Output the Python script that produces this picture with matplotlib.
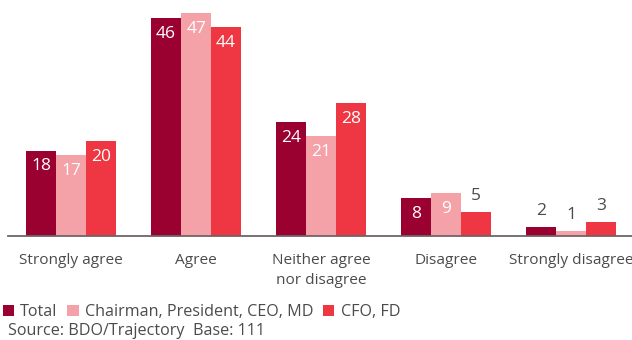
import numpy as np
import matplotlib
matplotlib.use("Agg")
from matplotlib import pyplot as plt
from matplotlib.patches import Patch

# Données
categories = ["Strongly agree", "Agree", "Neither agree\nnor disagree", "Disagree", "Strongly disagree"]
series_names = ["Total", "Chairman, President, CEO, MD", "CFO, FD"]
total = [18, 46, 24, 8, 2]
chairman = [17, 47, 21, 9, 1]
cfo = [20, 44, 28, 5, 3]
source_text = "Source: BDO/Trajectory  Base: 111"

colors = ["#9B0130", "#F4A1A7", "#EE3742"]
text_grey = "#4B4B4D"

plt.rcParams["font.family"] = ["Open Sans", "DejaVu Sans"]

fig = plt.figure(figsize=(6.32, 3.4), dpi=100)
ax = fig.add_axes([8 / 632, 104 / 340, 625 / 632, 236 / 340])

x = np.arange(len(categories))
w = 0.24
for i, vals in enumerate([total, chairman, cfo]):
    pos = x + (i - 1) * w
    ax.bar(pos, vals, width=w, color=colors[i], linewidth=0)
    for px, v in zip(pos, vals):
        if v >= 8:
            # étiquette blanche dans la barre
            ax.annotate(str(v), (px, v), xytext=(0, -11.5), textcoords="offset points",
                        ha="center", va="center", color="white", fontsize=12.5)
        else:
            ax.annotate(str(v), (px, v), xytext=(0, 11.5), textcoords="offset points",
                        ha="center", va="center", color=text_grey, fontsize=12.5)

ax.set_xlim(-0.505, 4.495)
ax.set_ylim(0, 49.7)
ax.set_xticks(x)
ax.set_xticklabels(categories, fontsize=11.1, color=text_grey, linespacing=1.45)
ax.tick_params(axis="x", length=0, pad=12)
ax.set_yticks([])
for s in ["top", "right", "left"]:
    ax.spines[s].set_visible(False)
ax.spines["bottom"].set_color("#6E6466")
ax.spines["bottom"].set_linewidth(1.3)

handles = [Patch(facecolor=c, edgecolor="none") for c in colors]
fig.legend(handles, series_names, loc="center left", bbox_to_anchor=(0.004, 1 - 312 / 340),
           ncol=3, frameon=False, fontsize=11.6, handlelength=0.7, handleheight=0.7,
           handletextpad=0.4, columnspacing=0.6, borderaxespad=0, borderpad=0,
           labelcolor=text_grey)
fig.text(8 / 632, 1 - 331 / 340, source_text, fontsize=11.6, color=text_grey,
         ha="left", va="center")

fig.savefig("out.png", dpi=100)
